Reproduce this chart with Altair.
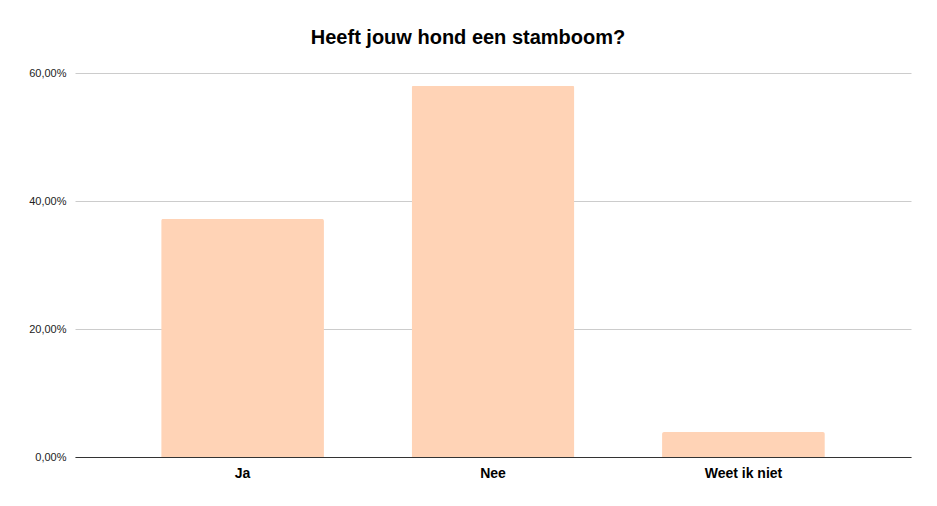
import altair as alt
import pandas as pd

categories = ["Ja", "Nee", "Weet ik niet"]
values = [37.2, 58.0, 3.9]

df = pd.DataFrame({"antwoord": categories, "pct": values})

chart = alt.Chart(df).mark_bar(
    color="#FFD3B6", cornerRadiusTopLeft=2, cornerRadiusTopRight=2
).encode(
    x=alt.X("antwoord:N", sort=categories, title=None,
            scale=alt.Scale(paddingInner=0.35, paddingOuter=0.344),
            axis=alt.Axis(labelAngle=0, labelFont="Liberation Sans", labelFontSize=14,
                          labelFontWeight="bold", labelColor="#000", labelPadding=9,
                          ticks=False, domainColor="#333", domainWidth=1)),
    y=alt.Y("pct:Q", title=None, scale=alt.Scale(domain=[0, 60], nice=False),
            axis=alt.Axis(values=[0, 20, 40, 60], labelFont="Liberation Sans", labelFontSize=11,
                          labelColor="#222", labelPadding=9, ticks=False, domain=False,
                          gridColor="#cccccc",
                          labelExpr="replace(format(datum.value, '.2f'), '.', ',') + '%'"))
).properties(
    width=836, height=384,
    title=alt.TitleParams("Heeft jouw hond een stamboom?", font="Liberation Sans", fontSize=20,
                          fontWeight="bold", color="#000", anchor="middle", dx=-25, offset=19),
    autosize=alt.AutoSizeParams(type="none"),
    padding={"left": 67, "top": 65, "right": 18, "bottom": 40}
).configure_view(stroke=None)

chart.save("out.html", embed_options={"renderer": "svg", "actions": False})
